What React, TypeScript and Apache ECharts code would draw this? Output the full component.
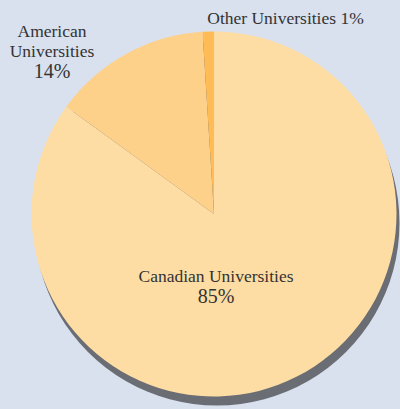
import React, { useEffect, useRef } from "react";
import * as echarts from "echarts";

const categories = ["Canadian Universities", "American Universities", "Other Universities"];
const values = [85, 14, 1];
const sliceColors = ["#FEDDA4", "#FED18B", "#FEBB56"];

const FONT = "'Times New Roman', 'Liberation Serif', serif";

export default function App() {
  const ref = useRef<HTMLDivElement>(null);

  useEffect(() => {
    document.body.style.margin = "0";
    if (!ref.current) return;
    const chart = echarts.init(ref.current, undefined, { renderer: "svg" });
    const total = values.reduce((a, b) => a + b, 0);
    const labelPos: Record<number, [number, number]> = {
      0: [216, 286],
      1: [52, 50.5],
      2: [285.5, 17.5],
    };
    chart.setOption({
      animation: false,
      backgroundColor: "#D9E0EE",
      textStyle: { fontFamily: FONT },
      series: [
        {
          type: "pie",
          silent: true,
          center: [217, 223],
          radius: 182.5,
          startAngle: 90,
          label: { show: false },
          labelLine: { show: false },
          itemStyle: { color: "#6A6D73" },
          emphasis: { disabled: true },
          data: [{ value: total, name: "shadow" }],
          z: 1,
        },
        {
          type: "pie",
          center: [214, 214],
          radius: 182.5,
          startAngle: 90,
          clockwise: true,
          z: 2,
          emphasis: { disabled: true },
          labelLine: { show: false },
          label: {
            show: true,
            position: "outside",
            alignTo: "none",
            overflow: "none",
            color: "#333333",
            fontFamily: FONT,
            fontSize: 17.5,
            formatter: (p: any) => {
              const pct = Math.round(p.percent) + "%";
              if (p.dataIndex === 0) return `{n|${p.name}}\n{p|${pct}}`;
              if (p.dataIndex === 1) return p.name.split(" ").map((w: string) => `{n|${w}}`).join("\n") + `\n{p|${pct}}`;
              return `{n|${p.name} ${pct}}`;
            },
            rich: {
              n: { fontSize: 17.5, lineHeight: 20, fontFamily: FONT, color: "#333333", align: "center" },
              p: { fontSize: 20, lineHeight: 20, fontFamily: FONT, color: "#333333", align: "center" },
            },
          },
          labelLayout: (params: any) => {
            const pos = labelPos[params.dataIndex];
            return { x: pos[0], y: pos[1], align: "center", verticalAlign: "middle" };
          },
          data: categories.map((c, i) => ({
            name: c,
            value: values[i],
            itemStyle: { color: sliceColors[i] },
          })),
        },
      ],
    });
    return () => chart.dispose();
  }, []);

  return <div ref={ref} style={{ width: 400, height: 409 }} />;
}
